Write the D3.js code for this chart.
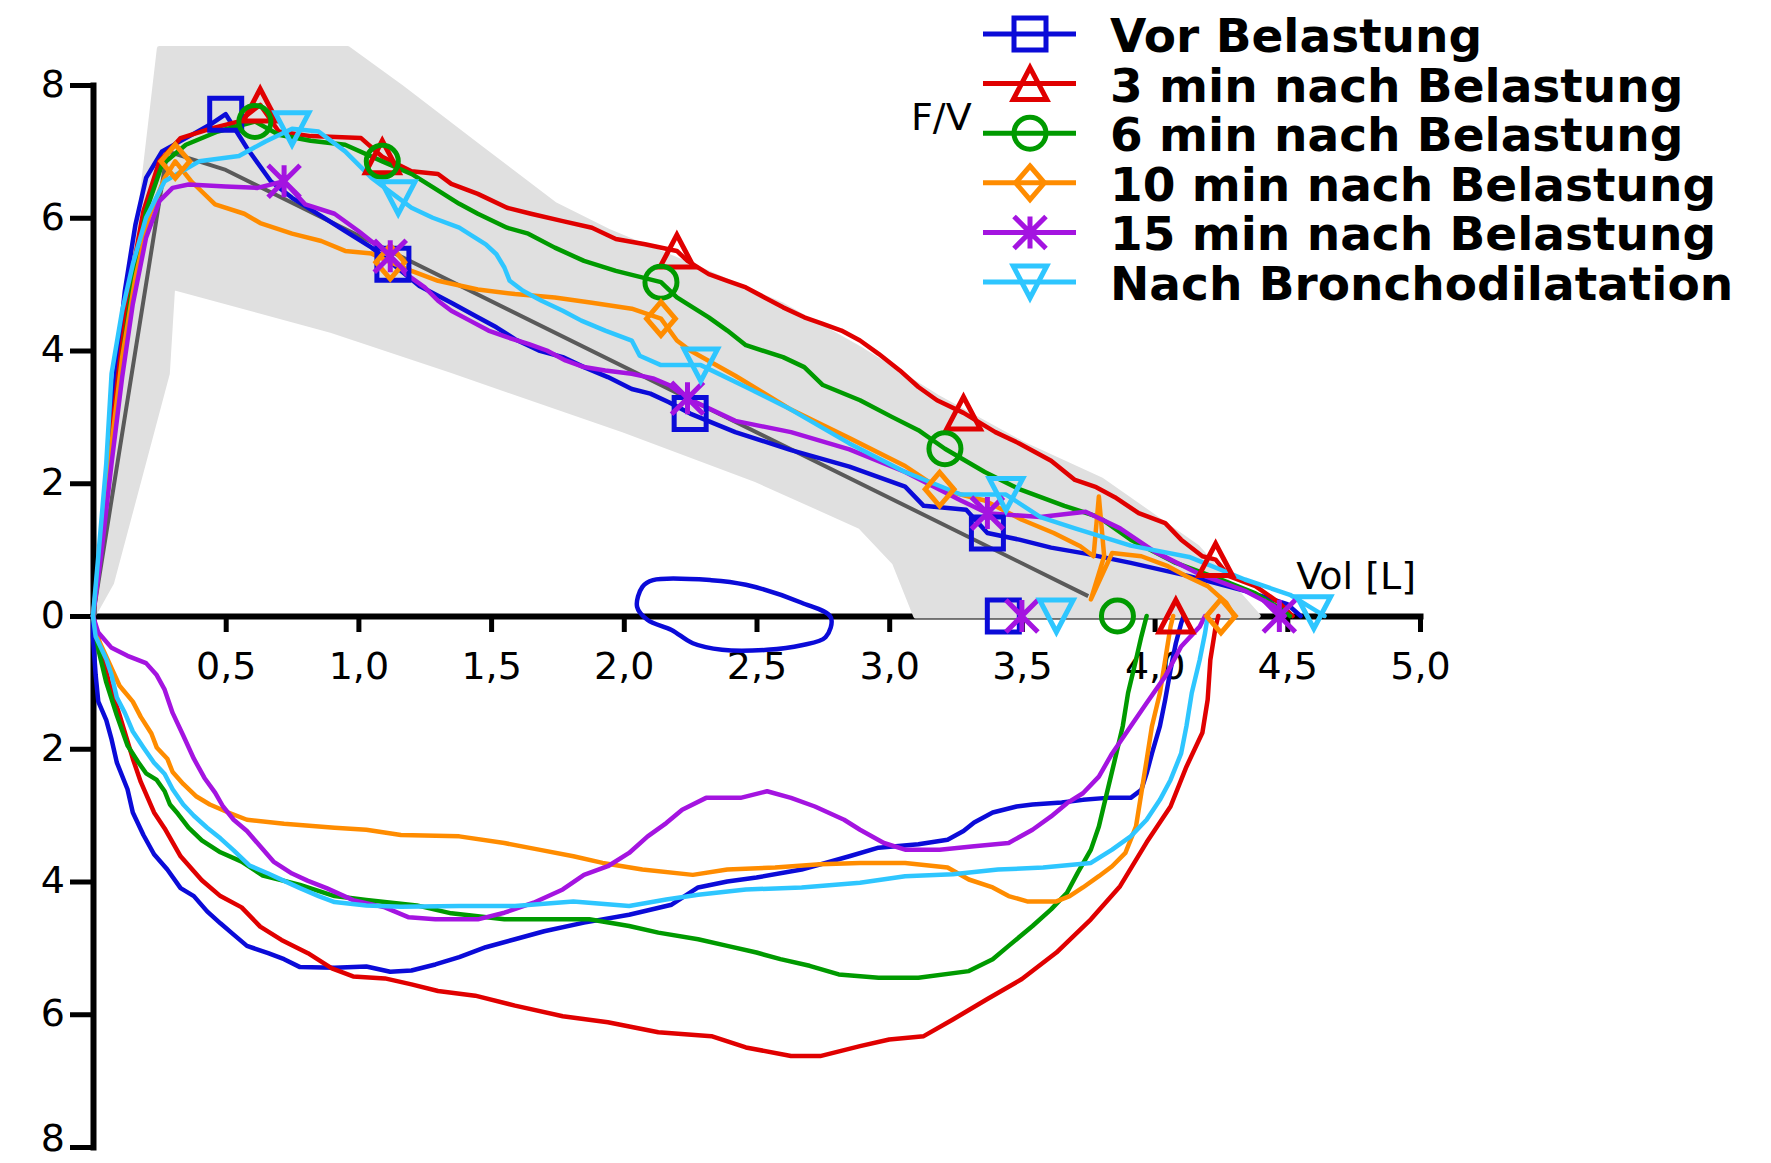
<!DOCTYPE html>
<html>
<head>
<meta charset="utf-8">
<script src="https://cdn.jsdelivr.net/npm/d3@7"></script>
<style>
  html, body { margin: 0; padding: 0; background: #ffffff; }
  svg { display: block; }
</style>
</head>
<body>
<svg id="chart" width="1771" height="1163"></svg>
<script>
// ---- Series (legend order) ----
const seriesNames = [
  "Vor Belastung",
  "3 min nach Belastung",
  "6 min nach Belastung",
  "10 min nach Belastung",
  "15 min nach Belastung",
  "Nach Bronchodilatation"
];
const seriesColors = ["#0b0bd8", "#e00000", "#009a00", "#ff8c00", "#a414e0", "#2ec6ff"];
const seriesSymbols = ["square", "triangle", "circle", "diamond", "asterisk", "triangleDown"];

// ---- Axis ticks ----
const xTickValues = [0.5, 1.0, 1.5, 2.0, 2.5, 3.0, 3.5, 4.0, 4.5, 5.0];
const xTickLabels = ["0,5", "1,0", "1,5", "2,0", "2,5", "3,0", "3,5", "4,0", "4,5", "5,0"];
const yTickValues = [-8, -6, -4, -2, 0, 2, 4, 6, 8];
const yTickLabels = ["8", "6", "4", "2", "0", "2", "4", "6", "8"];

// ---- Predicted normal range (upper and lower limit) ----
const bandUpper = [[0,0],[0.25,8.55],[0.96,8.55],[1.16,7.97],[1.45,7.08],[1.74,6.2],[1.94,5.8],[2.3,5.2],[2.6,4.68],[2.9,4.0],[3.18,3.3],[3.5,2.6],[3.8,2.05],[4.16,1.04],[4.39,0]];
const bandLower = [[0,0],[0.07,0.5],[0.28,3.65],[0.3,4.95],[0.9,4.3],[1.35,3.7],[2.0,2.8],[2.5,2.05],[2.89,1.35],[3.02,0.8],[3.1,0]];
// predicted curve
const predicted = [[0,0],[0.28,7.0],[0.5,6.72],[3.75,0.3]];

// ---- Expiration (flow > 0) ----
const blueExp = [[0,0],[0.03,1.2],[0.06,2.6],[0.09,3.8],[0.12,4.9],[0.16,5.9],[0.2,6.6],[0.26,7.0],[0.35,7.2],[0.44,7.4],[0.5,7.56],[0.58,7.05],[0.67,6.55],[0.75,6.3],[0.85,6.05],[0.95,5.8],[1.05,5.55],[1.13,5.3],[1.23,4.97],[1.35,4.72],[1.45,4.5],[1.52,4.35],[1.59,4.17],[1.68,4.0],[1.77,3.9],[1.85,3.75],[1.94,3.6],[2.03,3.42],[2.1,3.35],[2.17,3.22],[2.25,3.05],[2.42,2.77],[2.63,2.5],[2.85,2.25],[3.06,1.95],[3.13,1.66],[3.29,1.6],[3.37,1.25],[3.49,1.15],[3.61,1.03],[3.74,0.94],[3.91,0.8],[4.13,0.6],[4.34,0.38],[4.5,0.18],[4.55,0]];
const redExp = [[0,0],[0.03,1.1],[0.06,2.4],[0.1,3.8],[0.14,5.0],[0.19,6.1],[0.25,6.85],[0.33,7.2],[0.45,7.35],[0.55,7.45],[0.63,7.7],[0.7,7.3],[0.82,7.23],[1.01,7.2],[1.09,6.92],[1.2,6.7],[1.3,6.66],[1.35,6.51],[1.45,6.36],[1.56,6.15],[1.65,6.06],[1.77,5.95],[1.88,5.85],[1.97,5.68],[2.08,5.6],[2.2,5.5],[2.24,5.35],[2.32,5.15],[2.39,5.05],[2.46,4.95],[2.53,4.8],[2.6,4.65],[2.68,4.5],[2.75,4.4],[2.82,4.3],[2.89,4.15],[2.96,3.95],[3.04,3.7],[3.11,3.45],[3.18,3.25],[3.28,3.06],[3.4,2.77],[3.49,2.6],[3.61,2.34],[3.7,2.05],[3.78,1.94],[3.85,1.79],[3.94,1.55],[4.04,1.4],[4.1,1.15],[4.18,0.9],[4.23,0.85],[4.28,0.6],[4.38,0.45],[4.47,0.2],[4.52,0]];
const greenExp = [[0,0],[0.03,1.0],[0.07,2.5],[0.11,3.9],[0.15,5.0],[0.2,6.1],[0.26,6.8],[0.35,7.1],[0.47,7.3],[0.61,7.45],[0.7,7.25],[0.82,7.16],[0.95,7.1],[1.09,6.85],[1.2,6.66],[1.28,6.46],[1.38,6.21],[1.45,6.06],[1.56,5.85],[1.64,5.76],[1.74,5.55],[1.85,5.35],[1.97,5.2],[2.14,5.03],[2.2,4.8],[2.26,4.65],[2.32,4.5],[2.39,4.3],[2.46,4.08],[2.6,3.9],[2.68,3.75],[2.75,3.48],[2.89,3.25],[3.01,3.0],[3.11,2.8],[3.21,2.52],[3.36,2.17],[3.49,1.91],[3.66,1.66],[3.79,1.49],[3.91,1.15],[4.08,0.8],[4.25,0.55],[4.38,0.34],[4.47,0.12],[4.51,0]];
const orangeExp = [[0,0],[0.03,1.0],[0.07,2.6],[0.11,3.9],[0.16,5.1],[0.21,6.0],[0.27,6.6],[0.31,6.85],[0.37,6.55],[0.46,6.2],[0.57,6.06],[0.63,5.92],[0.75,5.76],[0.86,5.65],[0.95,5.5],[1.05,5.46],[1.12,5.33],[1.2,5.2],[1.3,5.05],[1.45,4.92],[1.59,4.85],[1.74,4.8],[1.88,4.72],[2.03,4.63],[2.14,4.48],[2.2,4.15],[2.25,4.0],[2.42,3.62],[2.63,3.11],[2.85,2.68],[3.06,2.26],[3.19,1.91],[3.36,1.74],[3.5,1.45],[3.62,1.25],[3.72,1.05],[3.77,0.9],[3.79,1.8],[3.81,0.9],[3.76,0.25],[3.84,0.95],[3.95,0.9],[4.05,0.75],[4.12,0.6],[4.2,0.45],[4.27,0.2],[4.3,0]];
const purpleExp = [[0,0],[0.03,0.9],[0.07,2.3],[0.11,3.6],[0.15,4.7],[0.2,5.7],[0.25,6.25],[0.3,6.45],[0.36,6.5],[0.5,6.47],[0.62,6.45],[0.72,6.55],[0.8,6.2],[0.91,6.06],[1.0,5.8],[1.12,5.42],[1.18,5.15],[1.25,4.95],[1.3,4.75],[1.35,4.6],[1.42,4.45],[1.49,4.3],[1.56,4.2],[1.64,4.1],[1.71,4.0],[1.78,3.85],[1.85,3.75],[1.93,3.7],[2.03,3.65],[2.11,3.58],[2.17,3.48],[2.24,3.28],[2.42,2.94],[2.63,2.77],[2.85,2.51],[3.06,2.17],[3.27,1.74],[3.37,1.55],[3.57,1.49],[3.74,1.57],[3.87,1.32],[4.0,0.97],[4.17,0.63],[4.34,0.38],[4.45,0.15],[4.49,0]];
const cyanExp = [[0,0],[0.02,0.9],[0.05,2.3],[0.07,3.65],[0.11,4.6],[0.15,5.3],[0.2,6.0],[0.27,6.55],[0.4,6.85],[0.55,6.93],[0.65,7.15],[0.75,7.34],[0.85,7.3],[0.95,7.0],[1.05,6.6],[1.15,6.3],[1.2,6.15],[1.28,6.0],[1.38,5.85],[1.42,5.75],[1.48,5.6],[1.52,5.45],[1.55,5.25],[1.57,5.05],[1.62,4.9],[1.69,4.75],[1.77,4.6],[1.84,4.45],[1.93,4.3],[2.03,4.15],[2.06,3.92],[2.14,3.78],[2.29,3.78],[2.46,3.45],[2.63,3.11],[2.85,2.6],[3.06,2.17],[3.27,1.83],[3.44,1.83],[3.57,1.49],[3.7,1.32],[3.91,1.06],[4.13,0.89],[4.34,0.55],[4.51,0.32],[4.6,0.1],[4.64,0]];

// ---- Inspiration (flow < 0) ----
const blueInsp = [[0,0],[0,-0.31],[0.01,-0.89],[0.02,-1.29],[0.05,-1.57],[0.07,-1.86],[0.09,-2.21],[0.13,-2.61],[0.15,-2.96],[0.19,-3.3],[0.23,-3.59],[0.28,-3.82],[0.33,-4.1],[0.38,-4.22],[0.43,-4.45],[0.48,-4.63],[0.53,-4.8],[0.58,-4.97],[0.66,-5.08],[0.72,-5.17],[0.78,-5.29],[0.91,-5.3],[1.03,-5.28],[1.12,-5.36],[1.2,-5.34],[1.29,-5.25],[1.38,-5.14],[1.48,-4.99],[1.59,-4.87],[1.7,-4.75],[1.85,-4.62],[2.02,-4.5],[2.18,-4.35],[2.28,-4.09],[2.39,-4.0],[2.5,-3.94],[2.67,-3.82],[2.85,-3.62],[2.96,-3.49],[3.11,-3.44],[3.22,-3.37],[3.28,-3.24],[3.32,-3.11],[3.39,-2.96],[3.48,-2.87],[3.54,-2.84],[3.65,-2.81],[3.73,-2.77],[3.82,-2.74],[3.91,-2.74],[3.95,-2.62],[3.97,-2.37],[3.99,-2.07],[4.02,-1.66],[4.04,-1.26],[4.06,-0.81],[4.08,-0.41],[4.1,-0.11],[4.11,0]];
const redInsp = [[0,0],[0.03,-0.5],[0.06,-1.0],[0.1,-1.49],[0.15,-2.15],[0.18,-2.5],[0.23,-2.96],[0.27,-3.2],[0.33,-3.62],[0.41,-3.98],[0.48,-4.22],[0.56,-4.39],[0.63,-4.68],[0.71,-4.88],[0.81,-5.08],[0.9,-5.31],[0.98,-5.43],[1.1,-5.46],[1.2,-5.55],[1.3,-5.65],[1.44,-5.72],[1.59,-5.87],[1.77,-6.03],[1.94,-6.12],[2.13,-6.27],[2.33,-6.33],[2.46,-6.5],[2.63,-6.63],[2.74,-6.63],[2.89,-6.48],[3.0,-6.38],[3.13,-6.33],[3.24,-6.08],[3.37,-5.77],[3.5,-5.47],[3.63,-5.07],[3.76,-4.57],[3.87,-4.07],[3.97,-3.41],[4.06,-2.87],[4.12,-2.27],[4.18,-1.76],[4.2,-1.26],[4.21,-0.66],[4.23,-0.16],[4.24,0]];
const greenInsp = [[0,0],[0.02,-0.5],[0.05,-1.0],[0.09,-1.5],[0.13,-1.95],[0.17,-2.2],[0.2,-2.37],[0.24,-2.47],[0.27,-2.64],[0.29,-2.84],[0.32,-2.98],[0.36,-3.19],[0.41,-3.38],[0.48,-3.56],[0.56,-3.7],[0.64,-3.91],[0.78,-4.05],[0.91,-4.22],[1.03,-4.28],[1.22,-4.36],[1.35,-4.48],[1.55,-4.57],[1.87,-4.57],[2.02,-4.67],[2.13,-4.77],[2.28,-4.87],[2.39,-4.97],[2.5,-5.07],[2.59,-5.17],[2.7,-5.27],[2.81,-5.4],[2.96,-5.45],[3.11,-5.45],[3.3,-5.35],[3.39,-5.17],[3.45,-4.97],[3.54,-4.67],[3.61,-4.42],[3.67,-4.17],[3.71,-3.87],[3.76,-3.52],[3.79,-3.17],[3.82,-2.67],[3.85,-2.17],[3.88,-1.66],[3.9,-1.16],[3.93,-0.66],[3.95,-0.31],[3.97,0]];
const orangeInsp = [[0,0],[0.02,-0.35],[0.1,-1.05],[0.15,-1.29],[0.18,-1.52],[0.22,-1.77],[0.24,-1.98],[0.28,-2.15],[0.3,-2.35],[0.34,-2.53],[0.39,-2.72],[0.44,-2.84],[0.51,-2.96],[0.58,-3.07],[0.72,-3.13],[0.91,-3.19],[1.03,-3.22],[1.16,-3.3],[1.38,-3.32],[1.55,-3.42],[1.68,-3.52],[1.81,-3.62],[1.92,-3.72],[2.07,-3.82],[2.26,-3.9],[2.39,-3.82],[2.57,-3.79],[2.74,-3.74],[2.89,-3.72],[3.06,-3.72],[3.22,-3.79],[3.3,-3.97],[3.39,-4.09],[3.45,-4.22],[3.52,-4.3],[3.63,-4.3],[3.68,-4.22],[3.73,-4.09],[3.79,-3.92],[3.84,-3.77],[3.89,-3.57],[3.93,-3.17],[3.95,-2.67],[3.97,-2.17],[3.99,-1.66],[4.02,-1.16],[4.04,-0.66],[4.06,-0.16],[4.07,0]];
const purpleInsp = [[0,0],[0.02,-0.25],[0.07,-0.48],[0.13,-0.6],[0.2,-0.71],[0.24,-0.89],[0.27,-1.11],[0.3,-1.46],[0.34,-1.8],[0.38,-2.15],[0.42,-2.44],[0.46,-2.66],[0.49,-2.87],[0.53,-3.07],[0.58,-3.24],[0.63,-3.47],[0.68,-3.7],[0.75,-3.88],[0.81,-3.99],[0.88,-4.1],[0.98,-4.28],[1.1,-4.39],[1.19,-4.54],[1.29,-4.57],[1.45,-4.57],[1.55,-4.47],[1.66,-4.32],[1.77,-4.12],[1.85,-3.9],[1.94,-3.77],[2.02,-3.57],[2.09,-3.32],[2.16,-3.12],[2.22,-2.92],[2.31,-2.74],[2.44,-2.74],[2.54,-2.64],[2.63,-2.74],[2.72,-2.87],[2.83,-3.07],[2.89,-3.22],[2.98,-3.42],[3.06,-3.52],[3.19,-3.52],[3.32,-3.47],[3.45,-3.42],[3.54,-3.22],[3.61,-3.02],[3.67,-2.82],[3.73,-2.67],[3.79,-2.42],[3.84,-2.07],[3.91,-1.66],[3.97,-1.31],[4.04,-0.91],[4.1,-0.46],[4.17,-0.16],[4.19,0]];
const cyanInsp = [[0,0],[0.01,-0.31],[0.05,-0.65],[0.07,-0.89],[0.09,-1.23],[0.12,-1.46],[0.15,-1.74],[0.19,-1.98],[0.23,-2.21],[0.27,-2.38],[0.3,-2.61],[0.34,-2.84],[0.38,-3.01],[0.43,-3.19],[0.48,-3.35],[0.53,-3.53],[0.59,-3.76],[0.66,-3.88],[0.72,-3.99],[0.78,-4.1],[0.85,-4.22],[0.91,-4.31],[1.03,-4.36],[1.16,-4.38],[1.38,-4.37],[1.59,-4.37],[1.81,-4.3],[2.02,-4.37],[2.16,-4.27],[2.28,-4.2],[2.46,-4.12],[2.67,-4.09],[2.89,-4.02],[3.06,-3.92],[3.24,-3.89],[3.41,-3.82],[3.58,-3.79],[3.76,-3.72],[3.84,-3.52],[3.91,-3.32],[3.97,-3.07],[4.02,-2.77],[4.06,-2.47],[4.1,-2.07],[4.12,-1.66],[4.14,-1.16],[4.17,-0.66],[4.19,-0.26],[4.2,0]];

// ---- Tidal breathing loop before exercise ----
const blueTidal = [[2.11,0.54],[2.33,0.54],[2.46,0.47],[2.67,0.2],[2.78,-0.02],[2.76,-0.32],[2.67,-0.44],[2.54,-0.51],[2.37,-0.51],[2.26,-0.41],[2.18,-0.21],[2.09,-0.06],[2.05,0.14],[2.07,0.44]];

// ---- Marked points (PEF, MEF75/50/25, end markers) ----
const blueMarkers = [[0.5,7.56],[1.13,5.3],[2.25,3.05],[3.37,1.25],[3.43,0]];
const redMarkers = [[0.63,7.7],[1.09,6.92],[2.2,5.5],[3.28,3.06],[4.23,0.85],[4.08,0]];
const greenMarkers = [[0.61,7.45],[1.09,6.85],[2.14,5.03],[3.21,2.52],[3.86,0]];
const orangeMarkers = [[0.31,6.85],[1.12,5.33],[2.14,4.48],[3.19,1.91],[4.25,0]];
const purpleMarkers = [[0.72,6.55],[1.12,5.42],[2.24,3.28],[3.37,1.55],[3.5,0],[4.47,0]];
const cyanMarkers = [[0.75,7.34],[1.15,6.3],[2.29,3.78],[3.44,1.83],[3.63,0],[4.6,0.05]];

const series = [
  { exp: blueExp,   insp: blueInsp,   marks: blueMarkers },
  { exp: redExp,    insp: redInsp,    marks: redMarkers },
  { exp: greenExp,  insp: greenInsp,  marks: greenMarkers },
  { exp: orangeExp, insp: orangeInsp, marks: orangeMarkers },
  { exp: purpleExp, insp: purpleInsp, marks: purpleMarkers },
  { exp: cyanExp,   insp: cyanInsp,   marks: cyanMarkers }
].map((s, i) => ({ ...s, name: seriesNames[i], color: seriesColors[i], symbol: seriesSymbols[i] }));

// ---- Layout ----
const svg = d3.select("#chart");
svg.append("rect").attr("width", 1771).attr("height", 1163).attr("fill", "#ffffff");

const x = d3.scaleLinear().domain([0, 5]).range([93, 1420]);
const y = d3.scaleLinear().domain([-8, 8]).range([1147, 85]);

const FONT = "'DejaVu Sans', Verdana, sans-serif";
const line = d3.line().x(d => x(d[0])).y(d => y(d[1]));

// marker outline path centred on 0,0
function symbolPath(type, r) {
  switch (type) {
    case "square":   return `M${-r},${-r}H${r}V${r}H${-r}Z`;
    case "triangle": return `M0,${-r}L${r * 1.05},${r}L${-r * 1.05},${r}Z`;
    case "triangleDown": return `M${-r * 1.05},${-r}L${r * 1.05},${-r}L0,${r}Z`;
    case "circle":   return `M${r},0A${r},${r} 0 1,1 ${-r},0A${r},${r} 0 1,1 ${r},0Z`;
    case "diamond":  return `M0,${-r * 1.05}L${r * 0.9},0L0,${r * 1.05}L${-r * 0.9},0Z`;
    case "asterisk": return `M${-r},${-r}L${r},${r}M${r},${-r}L${-r},${r}M0,${-r}L0,${r}`;
  }
}

// ---- X axis (drawn first so the range band lies over it) ----
const xMinorValues = d3.range(1, 51).map(k => k / 10).filter(v => !xTickValues.some(t => Math.abs(t - v) < 1e-6));
const gx = svg.append("g").attr("transform", `translate(0,${y(0)})`);
gx.call(d3.axisBottom(x).tickValues(xMinorValues).tickSize(8).tickSizeOuter(0).tickFormat(""));
gx.call(d3.axisBottom(x).tickValues(xTickValues).tickSize(16).tickSizeOuter(0).tickPadding(20)
  .tickFormat((d, i) => xTickLabels[i]));
gx.selectAll(".domain").attr("stroke", "#000").attr("stroke-width", 6).attr("stroke-linecap", "square");
gx.selectAll(".tick line").attr("stroke", "#000").attr("stroke-width", 5);
gx.selectAll(".tick text").attr("font-family", FONT).attr("font-size", 38).attr("fill", "#000");

// ---- Predicted range band ----
const bandPoly = bandUpper.concat(bandLower.slice().reverse());
svg.append("path")
  .attr("d", d3.line().x(d => x(d[0])).y(d => y(d[1])).curve(d3.curveLinearClosed)(bandPoly))
  .attr("fill", "#e0e0e0").attr("stroke", "#e0e0e0").attr("stroke-width", 5).attr("stroke-linejoin", "round");

// ---- Y axis ----
const yMinorValues = d3.range(-16, 17).map(k => k / 2).filter(v => !yTickValues.includes(v));
const gy = svg.append("g").attr("transform", `translate(${x(0)},0)`);
gy.call(d3.axisLeft(y).tickValues(yMinorValues).tickSize(10).tickSizeOuter(0).tickFormat(""));
gy.call(d3.axisLeft(y).tickValues(yTickValues).tickSize(23).tickSizeOuter(0).tickPadding(5)
  .tickFormat((d, i) => yTickLabels[i]));
gy.selectAll(".domain").attr("stroke", "#000").attr("stroke-width", 6).attr("stroke-linecap", "square");
gy.selectAll(".tick line").attr("stroke", "#000").attr("stroke-width", 5);
// the lowest label sits against the bottom edge, so it is raised a little
gy.selectAll(".tick text").attr("font-family", FONT).attr("font-size", 38).attr("fill", "#000")
  .attr("dy", d => d === -8 ? "0.08em" : "0.3em");

// ---- Predicted curve ----
svg.append("path").attr("d", line(predicted))
  .attr("fill", "none").attr("stroke", "#5a5a5a").attr("stroke-width", 4).attr("stroke-linejoin", "round");

// ---- Axis titles ----
svg.append("text").attr("x", 911).attr("y", 130).attr("font-family", FONT).attr("font-size", 38)
  .attr("fill", "#000").text("F/V");
svg.append("text").attr("x", 1416).attr("y", 589).attr("text-anchor", "end").attr("font-family", FONT)
  .attr("font-size", 38).attr("fill", "#000").text("Vol [L]");

// ---- Curves ----
const curves = svg.append("g").attr("fill", "none").attr("stroke-width", 4.5)
  .attr("stroke-linejoin", "round").attr("stroke-linecap", "round");
series.forEach(s => {
  curves.append("path").attr("d", line(s.insp)).attr("stroke", s.color);
  curves.append("path").attr("d", line(s.exp)).attr("stroke", s.color);
});
curves.append("path")
  .attr("d", d3.line().x(d => x(d[0])).y(d => y(d[1])).curve(d3.curveCatmullRomClosed)(blueTidal))
  .attr("stroke", seriesColors[0]);

// ---- Markers ----
const markers = svg.append("g").attr("fill", "none").attr("stroke-width", 5).attr("stroke-linejoin", "miter");
series.forEach(s => {
  markers.selectAll(null).data(s.marks).join("path")
    .attr("transform", d => `translate(${x(d[0])},${y(d[1])})`)
    .attr("d", symbolPath(s.symbol, 16))
    .attr("stroke", s.color);
});

// ---- Legend ----
const legend = svg.append("g");
series.forEach((s, i) => {
  const ly = 34 + i * 49.6;
  legend.append("line").attr("x1", 983).attr("x2", 1076).attr("y1", ly).attr("y2", ly)
    .attr("stroke", s.color).attr("stroke-width", 5);
  legend.append("path").attr("transform", `translate(1030,${ly})`)
    .attr("d", symbolPath(s.symbol, 16)).attr("fill", "none")
    .attr("stroke", s.color).attr("stroke-width", 5);
  legend.append("text").attr("x", 1110).attr("y", ly + 18)
    .attr("font-family", FONT).attr("font-weight", "bold").attr("font-size", 47)
    .attr("fill", "#000").text(s.name);
});
</script>
</body>
</html>
